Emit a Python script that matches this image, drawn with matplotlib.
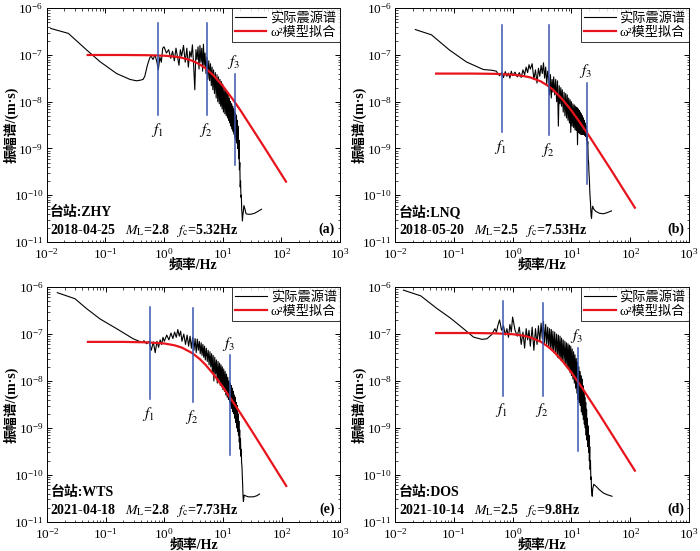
import matplotlib.pyplot as plt
import matplotlib.ticker as mticker

plt.rcParams['font.family'] = ['Liberation Serif', 'Noto Sans CJK SC']
plt.rcParams['mathtext.fontset'] = 'stix'

# amplitudes below are in units of 1e-9 m·s
SCALE = 1e-9

# shared FFT frequency bins for the noisy part of every spectrum (Hz)
noise_freq = [0.6, 0.65, 0.7, 0.75, 0.8, 0.85, 0.9, 0.95,
              1.0, 1.1, 1.2, 1.3, 1.4, 1.5, 1.6, 1.7, 1.8, 1.9,
              2.0, 2.15, 2.3, 2.45, 2.6, 2.75, 2.9, 3.05, 3.2, 3.35, 3.5, 3.65,
              3.8, 3.95, 4.1, 4.25, 4.4, 4.55, 4.7, 4.85,
              5.0, 5.2, 5.4, 5.6, 5.8, 6.0, 6.2, 6.4, 6.6, 6.8,
              7.0, 7.25, 7.5, 7.75, 8.0, 8.25, 8.5, 8.75, 9.0, 9.25, 9.5, 9.75,
              10.0, 10.3, 10.6, 10.9, 11.2, 11.5, 11.8, 12.1, 12.4, 12.7, 13.0,
              13.3, 13.6, 13.9, 14.2, 14.5, 14.8, 15.1, 15.4, 15.7, 16.0, 16.3,
              16.6, 16.9, 17.2, 17.5, 17.8, 18.1, 18.4, 18.7, 19.0, 19.3, 19.6,
              19.9, 20.2, 20.5, 20.8, 21.1, 21.4, 21.7, 22.0]

# frequencies of the fitted omega^2 curves (Hz)
fit_freq = [0.05, 0.2, 0.5, 1, 1.5, 2, 3, 4, 5, 7, 10, 15, 20, 30, 50, 80, 120]

# ---- (a) ZHY
a_low_f = [0.0117, 0.0234, 0.048, 0.081, 0.156, 0.263, 0.34, 0.40, 0.44, 0.47, 0.52, 0.57]
a_low_a = [370, 290, 128, 72, 40, 30, 28, 29, 30, 35, 60, 86]
a_noise = [95, 80, 100, 75, 48, 90, 70, 140,
           150, 110, 130, 85, 120, 75, 140, 90, 60, 130,
           95, 160, 70, 140, 55, 120, 90, 165, 60, 18, 130, 80, 150, 50, 160, 70, 140, 45, 170, 60,
           110, 40, 90, 30, 75, 28, 65, 22, 55, 18,
           48, 15, 42, 12, 38, 10, 34, 9, 30, 8, 27, 7,
           24, 6, 20, 5.5, 18, 5, 16, 4.5, 15, 4, 12, 3.5, 10, 3, 9, 2.6, 8, 2.3, 7, 2.0,
           6, 1.7, 5.5, 1.5, 5, 1.3, 4, 1.0, 3, 0.6, 1.5, 0.35, 0.5, 0.15, 0.2, 0.09,
           0.1, 0.05, 0.04, 0.028, 0.035]
a_tail_f = [22.5, 23, 24, 25, 27, 30, 35, 40, 46]
a_tail_a = [0.045, 0.06, 0.05, 0.04, 0.039, 0.039, 0.041, 0.045, 0.05]
a_fit = [100, 100, 99, 96.6, 92.6, 87.5, 75.7, 63.7, 52.9, 36.4, 21.9, 11.1, 6.6, 3.0, 1.11, 0.437, 0.195]
a_marks = [0.8, 5.45, 16.4]
a_mark_lo = [5.2, 5.2, 0.44]
a_mark_hi = [480, 480, 39]

# ---- (b) LNQ
b_low_f = [0.0222, 0.0417, 0.0855, 0.164, 0.316, 0.45, 0.53, 0.56]
b_low_a = [350, 270, 126, 71, 49, 47, 45, 40]
b_noise = [36, 42, 33, 44, 35, 41, 32, 45,
           36, 43, 34, 42, 33, 48, 38, 55, 42, 62,
           50, 65, 30, 48, 25, 52, 35, 60, 40, 68, 32, 55, 24, 45, 30, 14, 38, 12, 30, 16,
           34, 14, 30, 10, 28, 3, 22, 9, 20, 8,
           18, 6, 16, 5, 15, 4.5, 14, 4, 12, 3.5, 11, 2.2,
           10, 3, 9, 2.8, 8.5, 2.5, 8, 2.4, 7.5, 1.2, 7, 2.2, 6.5, 2.1, 6, 2, 5.5, 2, 5, 2,
           4.5, 2, 4, 1.9, 3.5, 1.8, 3, 1.5, 2.4, 1.2, 1.4, 0.6, 0.5, 0.3, 0.22, 0.13,
           0.09, 0.07, 0.045, 0.035, 0.032]
b_tail_f = [22.5, 23, 24, 26, 30, 35, 40, 48]
b_tail_a = [0.05, 0.058, 0.05, 0.045, 0.041, 0.04, 0.042, 0.046]
b_fit = [40, 40, 39.5, 38.0, 35.6, 33.1, 27.3, 21.9, 17.5, 11.3, 6.5, 3.15, 1.85, 0.84, 0.31, 0.121, 0.054]
b_marks = [0.65, 4.2, 18.2]
b_mark_lo = [2.2, 1.9, 0.17]
b_mark_hi = [430, 430, 25]

# ---- (c) WTS
c_low_f = [0.015, 0.030, 0.047, 0.08, 0.154, 0.296, 0.385, 0.42, 0.45, 0.5, 0.55]
c_low_a = [760, 565, 350, 210, 130, 79, 69, 66, 72, 62, 70]
c_noise = [45, 68, 40, 70, 52, 75, 60, 85,
           70, 95, 75, 105, 80, 110, 85, 125, 90, 115,
           70, 100, 60, 95, 55, 90, 50, 85, 45, 80, 40, 78, 45, 70, 38, 65, 35, 60, 32, 55,
           28, 50, 26, 45, 22, 42, 20, 38, 15, 35,
           10, 32, 14, 28, 9, 26, 10, 24, 8, 22, 7.5, 20,
           6.5, 18, 6, 16, 5, 14, 4.5, 12, 4, 10, 3.5, 9, 3, 8, 2.6, 7, 2.2, 6, 2, 5,
           1.6, 4.5, 1.3, 3.5, 1.0, 3, 0.85, 2, 0.7, 1.4, 0.5, 0.9, 0.35, 0.6, 0.25, 0.35,
           0.18, 0.15, 0.09, 0.06, 0.035]
c_tail_f = [22.3, 22.6, 23, 24, 27, 33, 38, 42]
c_tail_a = [0.027, 0.03, 0.037, 0.036, 0.034, 0.034, 0.036, 0.039]
c_fit = [68, 68, 66.5, 62.9, 57.4, 51.3, 39.2, 29.5, 22.4, 13.6, 7.4, 3.5, 2.03, 0.92, 0.334, 0.13, 0.058]
c_marks = [0.56, 3.1, 13.2]
c_mark_lo = [4.2, 3.6, 0.26]
c_mark_hi = [375, 350, 35]

# ---- (d) DOS
d_low_f = [0.0139, 0.0274, 0.0515, 0.087, 0.146, 0.216, 0.3, 0.365, 0.44, 0.5, 0.53, 0.56]
d_low_a = [860, 650, 350, 220, 130, 86, 77, 79, 97, 130, 110, 150]
d_noise = [200, 120, 150, 95, 130, 85, 160, 110,
           230, 120, 90, 140, 60, 110, 50, 130, 75, 120,
           55, 140, 45, 130, 60, 150, 70, 170, 80, 185, 65, 160, 60, 140, 55, 130, 50, 125, 45, 115,
           40, 110, 38, 100, 32, 95, 30, 90, 28, 82,
           26, 75, 24, 70, 22, 65, 20, 62, 18, 58, 15, 55,
           13, 48, 11, 42, 9, 36, 7, 30, 5.5, 25, 4, 20, 3.5, 16, 3, 13, 2.2, 11, 1.9, 8,
           1.5, 6, 1.2, 4.5, 1.0, 3.5, 0.7, 2.5, 0.55, 1.6, 0.4, 1.1, 0.3, 0.7, 0.2, 0.4,
           0.13, 0.2, 0.08, 0.09, 0.045]
d_tail_f = [22.3, 22.6, 23, 24, 27, 30, 35, 40, 49]
d_tail_a = [0.04, 0.035, 0.05, 0.063, 0.055, 0.048, 0.041, 0.038, 0.035]
d_fit = [105, 105, 103.5, 99.1, 92.6, 84.8, 68.9, 53.8, 42.4, 26.8, 15.2, 7.3, 4.2, 1.93, 0.70, 0.275, 0.123]
d_marks = [0.675, 3.3, 13.0]
d_mark_lo = [4.9, 4.9, 0.32]
d_mark_hi = [500, 460, 50]

stations = ['ZHY', 'LNQ', 'WTS', 'DOS']
dates = ['2018-04-25', '2018-05-20', '2021-04-18', '2021-10-14']
mags = ['2.8', '2.5', '2.8', '2.5']
corner = ['5.32', '7.53', '7.73', '9.8']
tags = ['(a)', '(b)', '(e)', '(d)']

panels = [
    (a_low_f, a_low_a, a_noise, a_tail_f, a_tail_a, a_fit, a_marks, a_mark_lo, a_mark_hi),
    (b_low_f, b_low_a, b_noise, b_tail_f, b_tail_a, b_fit, b_marks, b_mark_lo, b_mark_hi),
    (c_low_f, c_low_a, c_noise, c_tail_f, c_tail_a, c_fit, c_marks, c_mark_lo, c_mark_hi),
    (d_low_f, d_low_a, d_noise, d_tail_f, d_tail_a, d_fit, d_marks, d_mark_lo, d_mark_hi),
]

# axes rectangles in figure fraction
rects = [[0.0667, 0.561, 0.419, 0.424],
         [0.5643, 0.561, 0.420, 0.424],
         [0.0671, 0.053, 0.419, 0.426],
         [0.5643, 0.053, 0.420, 0.426]]

fig = plt.figure(figsize=(7, 5.51), dpi=100)

for i, (lf, la, na, tf, ta, fit, marks, lo, hi) in enumerate(panels):
    ax = fig.add_axes(rects[i])
    freq = lf + noise_freq + tf
    amp = [v * SCALE for v in la + na + ta]
    ax.plot(freq, amp, color='black', lw=0.8, label='实际震源谱')
    ax.plot(fit_freq, [v * SCALE for v in fit], color='#e8141c', lw=1.6, label='ω²模型拟合')

    for k, f in enumerate(marks):
        ax.plot([f, f], [lo[k] * SCALE, hi[k] * SCALE], color='#3a55b0', lw=1.1)
        if k < 2:
            ax.text(f * 0.95, lo[k] * SCALE * 0.75, r'$f_{%d}$' % (k + 1),
                    ha='center', va='top', fontsize=11)
        else:
            ax.text(f * 0.95, hi[k] * SCALE * 1.15, r'$f_{%d}$' % (k + 1),
                    ha='center', va='bottom', fontsize=11)

    ax.set_xscale('log')
    ax.set_yscale('log')
    ax.set_xlim(1e-2, 1e3)
    ax.set_ylim(1e-11, 1e-6)
    ax.set_xticks([1e-2, 1e-1, 1e0, 1e1, 1e2, 1e3])
    ax.set_yticks([1e-11, 1e-10, 1e-9, 1e-8, 1e-7, 1e-6])
    ax.xaxis.set_minor_locator(mticker.LogLocator(subs=range(2, 10), numticks=20))
    ax.yaxis.set_minor_locator(mticker.LogLocator(subs=range(2, 10), numticks=20))
    ax.tick_params(which='both', direction='in', top=True, right=True, labelsize=9.5)
    ax.tick_params(which='major', length=3.5, width=0.7)
    ax.tick_params(which='minor', length=1.8, width=0.5)
    ax.tick_params(axis='x', pad=4)
    ax.tick_params(axis='y', pad=2.5)
    for sp in ax.spines.values():
        sp.set_linewidth(0.7)

    ax.set_xlabel('频率/Hz', fontsize=10, fontweight='bold')
    ax.set_ylabel('振幅谱/(m·s)', fontsize=10, fontweight='bold')
    ax.xaxis.set_label_coords(0.5, -0.07)
    ax.yaxis.set_label_coords(-0.095, 0.5)

    leg = ax.legend(loc='upper right', fontsize=9.5, borderaxespad=0, fancybox=False,
                    handlelength=2.4, handletextpad=0.3, borderpad=0.25, labelspacing=0.15)
    leg.get_frame().set_edgecolor('black')
    leg.get_frame().set_linewidth(0.7)

    ax.text(0.012, 0.125, '台站:' + stations[i], transform=ax.transAxes,
            fontsize=10, fontweight='bold', va='center')
    ax.text(0.012, 0.05, dates[i] + r'   $M_{\rm L}$=' + mags[i] + r'   $f_{\rm c}$=' + corner[i] + 'Hz',
            transform=ax.transAxes, fontsize=10, fontweight='bold', va='center')
    ax.text(0.955, 0.055, tags[i], transform=ax.transAxes, fontsize=10,
            fontweight='bold', ha='center', va='center')

fig.savefig('out.png', dpi=100)
